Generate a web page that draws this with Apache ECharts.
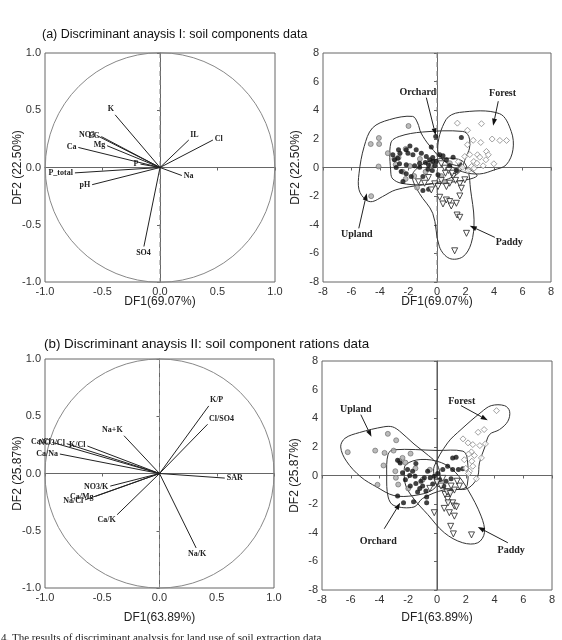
<!DOCTYPE html>
<html lang="ko">
<head>
    <meta charset="UTF-8">
    <title>Discriminant analysis</title>
    <script src="https://cdn.jsdelivr.net/npm/echarts@6/dist/echarts.min.js"></script>
    <style>
        body { margin: 0; padding: 0; background: #fff; }
        #chart { width: 562px; height: 640px; }
    </style>
</head>
<body>
    <div id="chart"></div>
    <script>
        // (a) soil components: loadings
        const aVecNames = ['K', 'NO3', 'EC', 'Mg', 'Ca', 'P_total', 'P', 'pH', 'IL', 'Cl', 'Na', 'SO4'];
        const aVecX = [-0.39, -0.55, -0.51, -0.46, -0.71, -0.74, -0.17, -0.59, 0.25, 0.46, 0.19, -0.14];
        const aVecY = [0.46, 0.28, 0.27, 0.19, 0.175, -0.047, 0.03, -0.15, 0.24, 0.24, -0.07, -0.69];

        // (a) scores
        const aUpland = [[-2.0, 2.9], [-4.08, 2.06], [-4.65, 1.64], [-4.06, 1.64], [-3.45, 1.0], [-4.1, 0.07], [-4.62, -2.0],
            [-2.7, 0.7], [-2.9, 0.2], [-2.4, -0.3], [-1.9, 0.1], [-2.2, -0.8], [-1.6, -0.6], [-1.2, 0.6], [-0.8, -0.3],
            [-0.4, 0.2], [0.3, -0.6], [0.9, 0.3], [1.4, -0.2], [-3.0, 0.6], [-2.2, 1.3], [-1.4, -1.4], [0.5, -1.0]];
        const aOrchard = [[-0.09, 2.17], [1.71, 2.1], [-3.1, 0.89], [-2.7, 1.24], [-2.16, 1.24], [-2.04, 1.0], [-1.69, 0.89],
            [-1.46, 1.24], [-1.1, 1.0], [-0.75, 0.77], [-0.4, 1.43], [-0.52, 0.54], [-0.28, 0.42], [-0.16, 0.12], [0.19, 0.89],
            [0.42, 0.82], [1.13, 0.72], [-0.82, 0.35], [-1.22, 0.3], [-1.57, 0.12], [-2.16, 0.19], [-2.63, 0.26], [-2.86, 0.0],
            [-2.51, -0.28], [-2.16, -0.44], [-2.39, -0.98], [-1.81, -0.63], [-1.22, 0.02], [-0.63, -0.12], [-0.33, -0.21],
            [-0.99, -0.63], [-0.99, -1.61], [-0.59, -1.52], [-2.75, 0.65], [-2.98, 0.54], [-0.05, 0.42], [0.66, 0.54],
            [0.89, 0.12], [1.6, 0.23], [1.36, -0.21], [0.07, -0.51], [-1.9, 1.5], [-2.6, 1.0], [-0.6, 0.2], [-0.3, 0.7]];
        const aPaddy = [[0.3, 0.26], [0.54, -0.05], [0.82, -0.21], [1.13, -0.63], [0.89, -1.1], [1.6, -1.14], [0.66, -1.33],
            [-0.16, -1.14], [0.07, -1.33], [-0.4, -1.57], [-0.87, -1.1], [0.19, -2.08], [0.66, -2.27], [0.42, -2.55],
            [0.89, -2.38], [1.0, -2.69], [1.36, -2.5], [1.6, -1.99], [1.41, -3.32], [1.6, -3.48], [2.07, -4.6], [1.24, -5.82],
            [1.71, -1.45], [1.95, -0.86], [1.06, -0.4], [0.59, -0.4], [-1.3, -1.0], [-0.6, -0.7], [0.3, -0.9], [1.3, -0.9]];
        const aForest = [[1.43, 3.1], [2.14, 2.6], [3.12, 3.06], [2.54, 1.9], [3.07, 1.75], [3.87, 1.99], [4.41, 1.89],
            [4.88, 1.89], [2.14, 1.59], [3.47, 1.12], [3.6, 0.89], [2.84, 0.89], [3.0, 0.72], [3.99, 0.26], [1.95, 0.77],
            [2.58, 0.42], [3.24, 0.12], [3.43, 0.54], [2.18, -0.21], [1.78, 0.02], [2.42, 0.07], [2.6, -0.05], [2.3, 0.9],
            [2.8, 0.3], [1.5, 0.4]];

        // (a) group outlines
        const aHulls = [
            [[-5.47, -0.4], [-5.11, 1.47], [-4.53, 2.76], [-3.35, 3.34], [-1.71, 3.57], [-1.36, 3.11], [-1.12, 2.41], [-0.5, 1.5],
             [0.6, 0.4], [2.2, -0.1], [2.8, -0.6], [1.34, -0.98], [-1.0, -1.21], [-2.89, -1.56], [-3.82, -2.03], [-4.53, -2.38],
             [-5.0, -2.26], [-5.47, -1.56]],
            [[-3.24, -0.39], [-3.24, 1.71], [-2.65, 2.17], [-1.0, 2.48], [1.81, 2.52], [2.23, 2.17], [2.28, 1.36], [2.04, 0.77],
             [1.6, -0.3], [0.5, -0.9], [-1.0, -1.2], [-2.5, -1.1], [-3.1, -0.8]],
            [[0.05, 1.24], [0.63, 3.34], [1.58, 3.85], [4.39, 3.76], [5.21, 2.52], [5.33, 1.24], [4.86, 0.19], [4.04, -0.16],
             [3.0, -0.45], [1.8, -0.3], [0.7, 0.3]],
            [[-1.74, -0.63], [-1.34, 0.0], [-0.4, 0.49], [0.89, 0.65], [1.83, 0.42], [2.2, -0.3], [2.35, -1.5], [2.6, -3.66],
             [2.4, -5.3], [1.81, -6.24], [0.87, -6.35], [0.17, -5.54], [-0.3, -3.2], [-1.24, -1.8]]
        ];
        const aArrows = [
            { name: 'Orchard', label: [-1.34, 5.26], from: [-0.75, 4.88], tip: [-0.09, 2.25] },
            { name: 'Forest', label: [4.6, 5.16], from: [4.3, 4.63], tip: [3.94, 2.92] },
            { name: 'Upland', label: [-5.63, -4.67], from: [-5.49, -4.25], tip: [-4.93, -1.8] },
            { name: 'Paddy', label: [5.07, -5.23], from: [4.06, -4.88], tip: [2.3, -4.07] }
        ];

        // (b) soil component ratios: loadings
        const bVecNames = ['K/P', 'Cl/SO4', 'Na+K', 'SAR', 'Na/K', 'Ca/K', 'NO3/K', 'Ca/Mg', 'Na/Cl', 'Ca/Cl', 'NO3/Cl', 'K/Cl', 'Ca/Na'];
        const bVecX = [0.43, 0.42, -0.31, 0.57, 0.32, -0.37, -0.43, -0.56, -0.65, -0.93, -0.81, -0.63, -0.87];
        const bVecY = [0.59, 0.43, 0.33, -0.04, -0.65, -0.36, -0.11, -0.20, -0.23, 0.27, 0.26, 0.24, 0.17];

        // (b) scores
        const bUpland = [[-6.21, 1.63], [-3.42, 2.91], [-2.84, 2.46], [-4.3, 1.74], [-3.65, 1.58], [-3.02, 1.74], [-1.84, 1.53],
            [-3.72, 0.7], [-4.14, -0.65], [-2.86, -0.16], [-2.7, -0.63], [-2.4, 1.23], [-2.9, 0.3], [-2.2, 0.9], [-1.5, 0.5],
            [-1.0, -0.3], [-0.5, 0.4], [-2.0, -0.9], [-2.6, 1.0]];
        const bOrchard = [[-2.74, 1.07], [-2.56, 0.88], [-1.47, 0.84], [-2.05, 0.42], [-1.7, 0.3], [-1.53, -0.05], [-1.47, -0.56],
            [-1.12, -0.4], [-1.0, -0.74], [-0.88, -0.16], [-0.65, 0.3], [-0.47, -0.16], [-0.19, -0.05], [0.05, 0.14], [0.4, 0.42],
            [0.74, 0.65], [1.09, 1.23], [1.33, 1.28], [1.09, 0.42], [1.49, 0.42], [0.98, -0.23], [0.63, -0.4], [-2.74, -1.44],
            [-2.33, -1.91], [-1.63, -1.84], [-0.72, -1.51], [-0.72, -1.91], [-0.77, -1.09], [-1.35, -1.16], [-1.86, -0.74],
            [-2.4, 0.19], [1.79, 0.47], [0.47, -0.74], [-1.2, -0.9], [-0.3, -0.6], [0.2, -0.3], [-2.2, -0.3], [-1.9, 0.0]];
        const bPaddy = [[-0.19, -2.6], [0.86, -2.6], [0.95, -3.55], [1.14, -4.08], [2.4, -4.15], [1.21, -2.84], [1.09, -1.91],
            [1.21, -2.14], [0.74, -1.67], [0.56, -1.33], [0.86, -1.21], [1.21, -1.02], [1.56, -0.74], [0.28, -0.74], [0.0, -0.47],
            [0.98, -0.74], [0.77, -1.91], [1.35, -2.19], [0.7, -1.16], [0.93, -1.26], [0.4, -0.2], [-0.5, -0.9], [1.4, -0.4],
            [0.5, -2.3]];
        const bForest = [[4.14, 4.53], [2.86, 3.02], [3.28, 3.21], [1.81, 2.56], [2.16, 2.28], [2.98, 2.09], [3.37, 2.21],
            [2.39, 1.65], [3.09, 1.23], [2.49, 2.16], [2.42, 1.0], [2.49, 0.65], [2.26, 0.3], [2.19, 0.14], [2.74, -0.23],
            [2.2, 1.5], [2.6, 1.4], [1.9, 1.1], [2.0, 0.5]];

        // (b) group outlines
        const bHulls = [
            [[-6.7, 2.0], [-6.4, 2.6], [-5.4, 3.0], [-3.7, 3.4], [-3.1, 3.4], [-2.6, 3.1], [-1.6, 2.2], [-0.6, 1.4], [0, 0.8],
             [0.2, -0.2], [-0.3, -1.0], [-1.6, -1.4], [-3.0, -1.4], [-4.2, -0.8], [-5.3, -0.1], [-6.3, 1.0]],
            [[-3.4, 1.5], [-3.0, 1.8], [0, 1.75], [1.8, 1.7], [2.1, 1.2], [2.1, -0.7], [1.7, -0.95], [0.5, -1.0], [-1.0, -1.6],
             [-1.6, -2.2], [-3.0, -2.1], [-3.4, -1.5], [-3.5, 0]],
            [[-2.16, 0.77], [-1.12, 1.12], [0.3, 0.9], [1.3, 0.2], [2.14, -0.98], [3.07, -2.84], [3.3, -4.0], [2.84, -4.7],
             [1.79, -4.7], [0.51, -4.0], [-0.65, -2.72], [-1.58, -1.67], [-2.16, -0.74], [-2.28, 0.19]],
            [[-0.19, 0.65], [0.74, 2.28], [1.67, 3.21], [3.07, 4.42], [3.77, 4.88], [4.7, 4.88], [5.05, 4.49], [4.93, 3.79],
             [4.35, 3.21], [3.65, 2.86], [3.35, 2.05], [2.95, 0.88], [2.84, -0.05], [2.37, -0.74], [1.79, -0.98], [0.05, -0.74],
             [-0.19, -0.05]]
        ];
        const bArrows = [
            { name: 'Upland', label: [-5.65, 4.6], from: [-5.3, 4.25], tip: [-4.56, 2.7] },
            { name: 'Forest', label: [1.72, 5.19], from: [1.67, 4.88], tip: [3.53, 3.86] },
            { name: 'Orchard', label: [-4.09, -4.63], from: [-3.67, -3.72], tip: [-2.56, -1.91] },
            { name: 'Paddy', label: [5.16, -5.21], from: [4.93, -4.7], tip: [2.84, -3.6] }
        ];

        const FONT = '"Liberation Sans", Arial, sans-serif';
        const SERIF = '"Liberation Serif", "Times New Roman", serif';

        // dashed zero lines (+ unit circle on the loading plots)
        function guides(idx, lim, circle, solidV) {
            return {
                type: 'custom', xAxisIndex: idx, yAxisIndex: idx, silent: true, z: 1,
                data: [[0, 0]],
                renderItem: function (params, api) {
                    const l = api.coord([-lim, 0]), r = api.coord([lim, 0]);
                    const t = api.coord([0, lim]), b = api.coord([0, -lim]);
                    const kids = [
                        { type: 'line', shape: { x1: l[0], y1: l[1], x2: r[0], y2: r[1] },
                          style: { stroke: '#666', lineWidth: 1, lineDash: [5, 4] } },
                        { type: 'line', shape: { x1: t[0], y1: t[1], x2: b[0], y2: b[1] },
                          style: { stroke: solidV ? '#555' : '#888', lineWidth: 1, lineDash: solidV ? null : [5, 4] } }
                    ];
                    if (circle) {
                        const c = api.coord([0, 0]);
                        const s = api.size([1, 1]);
                        kids.push({ type: 'circle', shape: { cx: c[0], cy: c[1], r: (s[0] + s[1]) / 2 },
                            style: { fill: 'none', stroke: '#888', lineWidth: 1 } });
                    }
                    return { type: 'group', children: kids };
                }
            };
        }

        function vectors(idx, names, xs, ys) {
            return {
                type: 'custom', xAxisIndex: idx, yAxisIndex: idx, silent: true, z: 3,
                data: xs.map((x, i) => [x, ys[i]]),
                renderItem: function (params, api) {
                    const o = api.coord([0, 0]);
                    const p = api.coord([api.value(0), api.value(1)]);
                    let dx = p[0] - o[0], dy = p[1] - o[1];
                    const len = Math.hypot(dx, dy) || 1;
                    dx /= len; dy /= len;
                    return {
                        type: 'group',
                        children: [
                            { type: 'line', shape: { x1: o[0], y1: o[1], x2: p[0], y2: p[1] },
                              style: { stroke: '#222', lineWidth: 1 } },
                            { type: 'text', x: p[0] + dx * 2, y: p[1] + dy * 2,
                              style: {
                                  text: names[params.dataIndex], font: 'bold 8px ' + SERIF, fill: '#222',
                                  align: dx < -0.5 ? 'right' : (dx > 0.5 ? 'left' : 'center'),
                                  verticalAlign: dy < -0.5 ? 'bottom' : (dy > 0.5 ? 'top' : 'middle')
                              } }
                        ]
                    };
                }
            };
        }

        function hulls(idx, list) {
            return {
                type: 'custom', xAxisIndex: idx, yAxisIndex: idx, silent: true, z: 2,
                data: list.map(() => [0, 0]),
                renderItem: function (params, api) {
                    const pts = list[params.dataIndex].map(p => api.coord(p));
                    return { type: 'polygon', shape: { points: pts, smooth: 0.35 },
                        style: { fill: 'none', stroke: '#333', lineWidth: 1 } };
                }
            };
        }

        function arrows(idx, list) {
            return {
                type: 'custom', xAxisIndex: idx, yAxisIndex: idx, silent: true, z: 5, clip: false,
                data: list.map(() => [0, 0]),
                renderItem: function (params, api) {
                    const a = list[params.dataIndex];
                    const L = api.coord(a.label), F = api.coord(a.from), T = api.coord(a.tip);
                    let dx = T[0] - F[0], dy = T[1] - F[1];
                    const len = Math.hypot(dx, dy) || 1;
                    dx /= len; dy /= len;
                    const h = 7, w = 2.5;
                    const bx = T[0] - dx * h, by = T[1] - dy * h;
                    return {
                        type: 'group',
                        children: [
                            { type: 'line', shape: { x1: F[0], y1: F[1], x2: bx, y2: by },
                              style: { stroke: '#222', lineWidth: 1 } },
                            { type: 'polygon', shape: { points: [[T[0], T[1]], [bx - dy * w, by + dx * w], [bx + dy * w, by - dx * w]] },
                              style: { fill: '#111' } },
                            { type: 'text', x: L[0], y: L[1],
                              style: { text: a.name, font: 'bold 10px ' + SERIF, fill: '#222', align: 'center', verticalAlign: 'middle' } }
                        ]
                    };
                }
            };
        }

        function groups(idx, up, orc, pad, fst) {
            return [
                { type: 'scatter', xAxisIndex: idx, yAxisIndex: idx, data: up, symbol: 'circle', symbolSize: 5, z: 4,
                  itemStyle: { color: '#aaa', borderColor: '#666', borderWidth: 0.8 } },
                { type: 'scatter', xAxisIndex: idx, yAxisIndex: idx, data: orc, symbol: 'circle', symbolSize: 5, z: 4,
                  itemStyle: { color: '#111' } },
                { type: 'scatter', xAxisIndex: idx, yAxisIndex: idx, data: pad, symbol: 'triangle', symbolRotate: 180,
                  symbolSize: 6, z: 4, itemStyle: { color: '#fff', borderColor: '#222', borderWidth: 1 } },
                { type: 'scatter', xAxisIndex: idx, yAxisIndex: idx, data: fst, symbol: 'diamond', symbolSize: 6, z: 4,
                  itemStyle: { color: '#fff', borderColor: '#888', borderWidth: 1 } }
            ];
        }

        function xAx(idx, lim, step, dec, name, gap) {
            return {
                gridIndex: idx, type: 'value', min: -lim, max: lim, interval: step,
                name: name, nameLocation: 'middle', nameGap: gap, nameMoveOverlap: false,
                nameTextStyle: { fontFamily: FONT, fontSize: 12, color: '#222' },
                axisLine: { show: true, lineStyle: { color: '#666' } },
                axisTick: { show: true, inside: false, length: 3, lineStyle: { color: '#666' } },
                axisLabel: { fontFamily: FONT, fontSize: 11, color: '#333', margin: 4,
                    formatter: v => v.toFixed(dec) },
                splitLine: { show: false }
            };
        }
        function yAx(idx, lim, step, dec, name) {
            return {
                gridIndex: idx, type: 'value', min: -lim, max: lim, interval: step,
                name: name, nameLocation: 'middle', nameGap: 21, nameRotate: 90, nameMoveOverlap: false,
                nameTextStyle: { fontFamily: FONT, fontSize: 12, color: '#222' },
                axisLine: { show: true, lineStyle: { color: '#666' } },
                axisTick: { show: true, inside: false, length: 3, lineStyle: { color: '#666' } },
                axisLabel: { fontFamily: FONT, fontSize: 11, color: '#333', margin: 4,
                    formatter: v => v.toFixed(dec) },
                splitLine: { show: false }
            };
        }

        const grid = (left, top, width, height) => ({
            left: left, top: top, width: width, height: height,
            show: true, borderColor: '#666', borderWidth: 1, backgroundColor: 'transparent'
        });

        const chart = echarts.init(document.getElementById('chart'));
        chart.setOption({
            animation: false,
            backgroundColor: '#fff',
            title: [
                { text: '(a) Discriminant anaysis I: soil components data', left: 42, top: 28, padding: 0,
                  textStyle: { fontFamily: FONT, fontSize: 12.5, fontWeight: 'normal', color: '#111' } },
                { text: '(b) Discriminant anaysis II: soil component rations data', left: 44, top: 338, padding: 0,
                  textStyle: { fontFamily: FONT, fontSize: 13.4, fontWeight: 'normal', color: '#111' } },
                { text: '4. The results of discriminant analysis for land use of soil extraction data', left: 1, top: 633, padding: 0,
                  textStyle: { fontFamily: SERIF, fontSize: 11, fontWeight: 'normal', color: '#222' } }
            ],
            grid: [
                grid(45, 53, 230, 229),
                grid(323, 53, 228, 229),
                grid(45, 359, 229, 229),
                grid(322, 361, 230, 229)
            ],
            xAxis: [
                xAx(0, 1, 0.5, 1, 'DF1(69.07%)', 14),
                xAx(1, 8, 2, 0, 'DF1(69.07%)', 14),
                xAx(2, 1, 0.5, 1, 'DF1(63.89%)', 24),
                xAx(3, 8, 2, 0, 'DF1(63.89%)', 22)
            ],
            yAxis: [
                yAx(0, 1, 0.5, 1, 'DF2 (22.50%)'),
                yAx(1, 8, 2, 0, 'DF2 (22.50%)'),
                yAx(2, 1, 0.5, 1, 'DF2 (25.87%)'),
                yAx(3, 8, 2, 0, 'DF2 (25.87%)')
            ],
            series: [
                guides(0, 1, true, false),
                vectors(0, aVecNames, aVecX, aVecY),
                guides(1, 8, false, false),
                hulls(1, aHulls),
                ...groups(1, aUpland, aOrchard, aPaddy, aForest),
                arrows(1, aArrows),
                guides(2, 1, true, false),
                vectors(2, bVecNames, bVecX, bVecY),
                guides(3, 8, false, true),
                hulls(3, bHulls),
                ...groups(3, bUpland, bOrchard, bPaddy, bForest),
                arrows(3, bArrows)
            ]
        });
    </script>
</body>
</html>
